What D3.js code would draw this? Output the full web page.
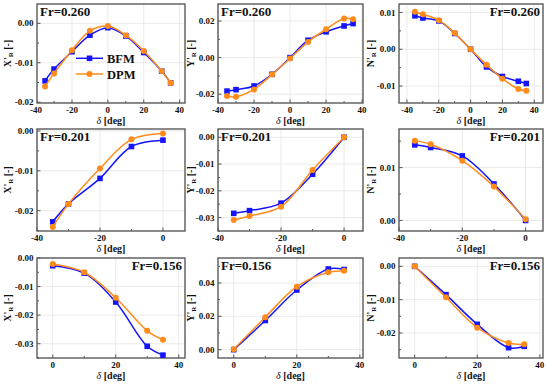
<!DOCTYPE html>
<html>
  <head>
    <meta charset="utf-8" />
    <script src="https://cdn.jsdelivr.net/npm/d3@7"></script>
    <style>
      body { margin: 0; background: #fff; }
      svg { font-family: "Liberation Serif", "Times New Roman", serif; font-weight: bold; }
    </style>
  </head>
  <body>
    <svg id="chart" width="550" height="384"></svg>
    <script>
      // rudder angles
      var deltaFull = [-35, -30, -20, -10, 0, 10, 20, 30, 35];
      var deltaNeg = [-35, -30, -20, -10, 0];
      var deltaPos = [0, 10, 20, 30, 35];

      // Fr = 0.260
      var xr260Bfm = [-0.0146, -0.0116, -0.0072, -0.0030, -0.0011, -0.0032, -0.0074, -0.0121, -0.0151];
      var xr260Dpm = [-0.0160, -0.0127, -0.0068, -0.0019, -0.0007, -0.0030, -0.0070, -0.0121, -0.0151];
      var yr260Bfm = [-0.0183, -0.0175, -0.0155, -0.0091, 0.0000, 0.0095, 0.0141, 0.0173, 0.0186];
      var yr260Dpm = [-0.0210, -0.0214, -0.0174, -0.0092, -0.0005, 0.0086, 0.0155, 0.0214, 0.0210];
      var nr260Bfm = [0.0091, 0.0085, 0.0077, 0.0043, 0.0000, -0.0048, -0.0074, -0.0087, -0.0093];
      var nr260Dpm = [0.0102, 0.0095, 0.0079, 0.0044, 0.0000, -0.0042, -0.0080, -0.0108, -0.0113];

      // Fr = 0.201
      var xr201Bfm = [-0.0228, -0.0183, -0.0119, -0.0039, -0.0023];
      var xr201Dpm = [-0.0241, -0.0183, -0.0094, -0.0021, -0.0006];
      var yr201Bfm = [-0.0284, -0.0274, -0.0246, -0.0138, 0.0000];
      var yr201Dpm = [-0.0309, -0.0294, -0.0259, -0.0122, 0.0000];
      var nr201Bfm = [0.0143, 0.0138, 0.0122, 0.0069, 0.0000];
      var nr201Dpm = [0.0151, 0.0144, 0.0113, 0.0064, 0.0002];

      // Fr = 0.156
      var xr156Bfm = [-0.0027, -0.0053, -0.0154, -0.0309, -0.0340];
      var xr156Dpm = [-0.0021, -0.0050, -0.0139, -0.0255, -0.0286];
      var yr156Bfm = [0.0000, 0.0175, 0.0358, 0.0484, 0.0481];
      var yr156Dpm = [0.0002, 0.0195, 0.0378, 0.0464, 0.0474];
      var nr156Bfm = [0.0000, -0.0085, -0.0174, -0.0244, -0.0240];
      var nr156Dpm = [0.0000, -0.0093, -0.0184, -0.0230, -0.0234];

      var seriesNames = ["BFM", "DPM"];
      var seriesColors = ["#1414ff", "#ff8c1a"];

      var rows = [[4, 103], [129, 231], [258, 358]];
      var cols = [[37, 185], [218, 363], [399, 543]];
      var titleX = [11, 194, 374];

      var panels = [
        { r: 0, c: 0, q: "X", fr: "Fr=0.260", frLeft: true, d: deltaFull, bfm: xr260Bfm, dpm: xr260Dpm,
          xd: [-39.5, 43], xt: [-40, -20, 0, 20, 40], yd: [-0.0202, 0.0049], yt: [-0.02, -0.01, 0], legend: true },
        { r: 0, c: 1, q: "Y", fr: "Fr=0.260", frLeft: true, d: deltaFull, bfm: yr260Bfm, dpm: yr260Dpm,
          xd: [-40, 40.5], xt: [-40, -20, 0, 20, 40], yd: [-0.0248, 0.0293], yt: [-0.02, 0, 0.02] },
        { r: 0, c: 2, q: "N", fr: "Fr=0.260", frLeft: false, d: deltaFull, bfm: nr260Bfm, dpm: nr260Dpm,
          xd: [-45, 45.5], xt: [-40, -20, 0, 20, 40], yd: [-0.0146, 0.0123], yt: [-0.01, 0, 0.01] },
        { r: 1, c: 0, q: "X", fr: "Fr=0.201", frLeft: true, d: deltaNeg, bfm: xr201Bfm, dpm: xr201Dpm,
          xd: [-40, 7], xt: [-40, -20, 0], yd: [-0.0251, 0.0005], yt: [-0.02, -0.01, 0] },
        { r: 1, c: 1, q: "Y", fr: "Fr=0.201", frLeft: true, d: deltaNeg, bfm: yr201Bfm, dpm: yr201Dpm,
          xd: [-40, 6], xt: [-40, -20, 0], yd: [-0.035, 0.0031], yt: [-0.03, -0.02, -0.01, 0] },
        { r: 1, c: 2, q: "N", fr: "Fr=0.201", frLeft: false, d: deltaNeg, bfm: nr201Bfm, dpm: nr201Dpm,
          xd: [-40, 5.5], xt: [-40, -20, 0], yd: [-0.002, 0.0173], yt: [0, 0.01] },
        { r: 2, c: 0, q: "X", fr: "Fr=0.156", frLeft: false, d: deltaPos, bfm: xr156Bfm, dpm: xr156Dpm,
          xd: [-5, 42], xt: [0, 20, 40], yd: [-0.035, 0.0], yt: [-0.03, -0.02, -0.01, 0] },
        { r: 2, c: 1, q: "Y", fr: "Fr=0.156", frLeft: true, d: deltaPos, bfm: yr156Bfm, dpm: yr156Dpm,
          xd: [-5, 41], xt: [0, 20, 40], yd: [-0.005, 0.055], yt: [0, 0.02, 0.04] },
        { r: 2, c: 2, q: "N", fr: "Fr=0.156", frLeft: false, d: deltaPos, bfm: nr156Bfm, dpm: nr156Dpm,
          xd: [-5, 41], xt: [0, 20, 40], yd: [-0.0275, 0.0025], yt: [-0.02, -0.01, 0] }
      ];

      var svg = d3.select("#chart");
      svg.append("rect").attr("width", 550).attr("height", 384).attr("fill", "#fff");

      function inside(v, dom) { return v >= Math.min(dom[0], dom[1]) - 1e-9 && v <= Math.max(dom[0], dom[1]) + 1e-9; }

      panels.forEach(function (p) {
        var x0 = cols[p.c][0], x1 = cols[p.c][1];
        var y0 = rows[p.r][0], y1 = rows[p.r][1];
        var x = d3.scaleLinear().domain(p.xd).range([x0, x1]);
        var y = d3.scaleLinear().domain(p.yd).range([y1, y0]);
        var g = svg.append("g");

        var xstep = p.xt[1] - p.xt[0];
        var ystep = p.yt[1] - p.yt[0];
        var xminor = d3.range(p.xt[0] - xstep, p.xt[p.xt.length - 1] + xstep, xstep / 2)
          .filter(function (v) { return inside(v, p.xd); });
        var yminor = d3.range(p.yt[0] - ystep, p.yt[p.yt.length - 1] + ystep * 1.01, ystep / 2)
          .filter(function (v) { return inside(v, p.yd); });

        // grid
        g.selectAll(".gx").data(p.xt.filter(function (v) { return inside(v, p.xd); })).enter()
          .append("line")
          .attr("x1", function (d) { return x(d); }).attr("x2", function (d) { return x(d); })
          .attr("y1", y0).attr("y2", y1)
          .attr("stroke", "#e4e4e4").attr("stroke-width", 0.8);
        g.selectAll(".gy").data(p.yt.filter(function (v) { return inside(v, p.yd); })).enter()
          .append("line")
          .attr("y1", function (d) { return y(d); }).attr("y2", function (d) { return y(d); })
          .attr("x1", x0).attr("x2", x1)
          .attr("stroke", "#e4e4e4").attr("stroke-width", 0.8);

        // ticks (inward)
        g.selectAll(".tx").data(xminor).enter().append("line")
          .attr("x1", function (d) { return x(d); }).attr("x2", function (d) { return x(d); })
          .attr("y1", y1).attr("y2", function (d) { return p.xt.indexOf(d) >= 0 ? y1 - 3.5 : y1 - 2; })
          .attr("stroke", "#555").attr("stroke-width", 1);
        g.selectAll(".ty").data(yminor).enter().append("line")
          .attr("y1", function (d) { return y(d); }).attr("y2", function (d) { return y(d); })
          .attr("x1", x0).attr("x2", function (d) {
            var major = p.yt.some(function (t) { return Math.abs(t - d) < 1e-9; });
            return major ? x0 + 3.5 : x0 + 2;
          })
          .attr("stroke", "#555").attr("stroke-width", 1);

        // frame
        g.append("rect").attr("x", x0).attr("y", y0).attr("width", x1 - x0).attr("height", y1 - y0)
          .attr("fill", "none").attr("stroke", "#5a5a5a").attr("stroke-width", 1.4);

        // tick labels
        g.selectAll(".lx").data(p.xt).enter().append("text")
          .attr("x", function (d) { return x(d); }).attr("y", y1 + 10)
          .attr("text-anchor", "middle").attr("font-size", 9).attr("fill", "#111")
          .text(function (d) { return d3.format("d")(d).replace("−", "-"); });
        g.selectAll(".ly").data(p.yt).enter().append("text")
          .attr("x", x0 - 3.5).attr("y", function (d) { return y(d); }).attr("dy", "0.35em")
          .attr("text-anchor", "end").attr("font-size", 9).attr("fill", "#111")
          .text(function (d) { return d3.format(".2f")(d).replace("−", "-"); });

        // x title
        var xt = g.append("text").attr("x", (x0 + x1) / 2).attr("y", y1 + 20.5)
          .attr("text-anchor", "middle").attr("font-size", 10).attr("fill", "#111");
        xt.append("tspan").attr("font-style", "italic").attr("font-weight", "normal").text("δ");
        xt.append("tspan").text(" [deg]");

        // y title
        var yt = g.append("text")
          .attr("transform", "translate(" + titleX[p.c] + "," + (y0 + y1) / 2 + ") rotate(-90)")
          .attr("text-anchor", "middle").attr("font-size", 10).attr("fill", "#111");
        yt.append("tspan").text(p.q + "'");
        yt.append("tspan").attr("font-size", 7).attr("dy", 2).text("R");
        yt.append("tspan").attr("dy", -2).text(" [-]");

        // series
        var line = d3.line().curve(d3.curveCatmullRom.alpha(0.5))
          .x(function (d) { return x(d[0]); }).y(function (d) { return y(d[1]); });
        var bfmPts = p.d.map(function (v, i) { return [v, p.bfm[i]]; });
        var dpmPts = p.d.map(function (v, i) { return [v, p.dpm[i]]; });

        g.append("path").datum(bfmPts).attr("d", line)
          .attr("fill", "none").attr("stroke", seriesColors[0]).attr("stroke-width", 1.5);
        g.selectAll(".mb").data(bfmPts).enter().append("rect")
          .attr("x", function (d) { return x(d[0]) - 2.8; }).attr("y", function (d) { return y(d[1]) - 2.8; })
          .attr("width", 5.6).attr("height", 5.6).attr("fill", seriesColors[0]);
        g.append("path").datum(dpmPts).attr("d", line)
          .attr("fill", "none").attr("stroke", seriesColors[1]).attr("stroke-width", 1.5);
        g.selectAll(".md").data(dpmPts).enter().append("circle")
          .attr("cx", function (d) { return x(d[0]); }).attr("cy", function (d) { return y(d[1]); })
          .attr("r", 3).attr("fill", seriesColors[1]);

        // Froude label
        g.append("text")
          .attr("x", p.frLeft ? x0 + 3 : x1 - 3).attr("y", y0 + 12)
          .attr("text-anchor", p.frLeft ? "start" : "end")
          .attr("font-size", 13).attr("fill", "#111").text(p.fr);

        // legend
        if (p.legend) {
          seriesNames.forEach(function (name, i) {
            var ly = 58.3 + i * 15.7;
            g.append("line").attr("x1", 76).attr("x2", 103).attr("y1", ly).attr("y2", ly)
              .attr("stroke", seriesColors[i]).attr("stroke-width", 1.5);
            if (i === 0) {
              g.append("rect").attr("x", 89.5 - 2.8).attr("y", ly - 2.8).attr("width", 5.6).attr("height", 5.6)
                .attr("fill", seriesColors[i]);
            } else {
              g.append("circle").attr("cx", 89.5).attr("cy", ly).attr("r", 3).attr("fill", seriesColors[i]);
            }
            g.append("text").attr("x", 107).attr("y", ly).attr("dy", "0.36em")
              .attr("font-size", 12.5).attr("fill", "#111").text(name);
          });
        }
      });
    </script>
  </body>
</html>
